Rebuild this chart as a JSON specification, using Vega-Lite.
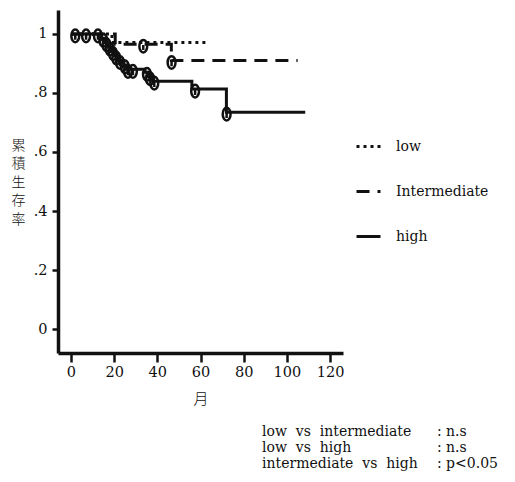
{
  "$schema": "https://vega.github.io/schema/vega-lite/v6.json",
  "width": 285,
  "height": 343,
  "autosize": {"type": "none"},
  "padding": {"left": 58, "top": 10, "right": 172, "bottom": 129},
  "background": "white",
  "datasets": {
    "km": [
      {"group": "low", "t": 0, "s": 1, "c": 0},
      {"group": "low", "t": 2, "s": 1, "c": 1},
      {"group": "low", "t": 19, "s": 0.971, "c": 0},
      {"group": "low", "t": 63, "s": 0.971, "c": 0},
      {"group": "Intermediate", "t": 0, "s": 1, "c": 0},
      {"group": "Intermediate", "t": 7, "s": 1, "c": 1},
      {"group": "Intermediate", "t": 20.5, "s": 0.965, "c": 0},
      {"group": "Intermediate", "t": 33.5, "s": 0.965, "c": 1},
      {"group": "Intermediate", "t": 46.5, "s": 0.91, "c": 0},
      {"group": "Intermediate", "t": 46.6, "s": 0.91, "c": 1},
      {"group": "Intermediate", "t": 105, "s": 0.91, "c": 0},
      {"group": "high", "t": 0, "s": 1, "c": 0},
      {"group": "high", "t": 12.5, "s": 1, "c": 1},
      {"group": "high", "t": 14, "s": 0.985, "c": 0},
      {"group": "high", "t": 15, "s": 0.985, "c": 1},
      {"group": "high", "t": 16, "s": 0.97, "c": 0},
      {"group": "high", "t": 16.5, "s": 0.97, "c": 1},
      {"group": "high", "t": 17.5, "s": 0.955, "c": 0},
      {"group": "high", "t": 18, "s": 0.955, "c": 1},
      {"group": "high", "t": 19, "s": 0.94, "c": 0},
      {"group": "high", "t": 19.5, "s": 0.94, "c": 1},
      {"group": "high", "t": 20.5, "s": 0.925, "c": 0},
      {"group": "high", "t": 21, "s": 0.925, "c": 1},
      {"group": "high", "t": 22, "s": 0.91, "c": 0},
      {"group": "high", "t": 22.7, "s": 0.91, "c": 1},
      {"group": "high", "t": 24.5, "s": 0.895, "c": 0},
      {"group": "high", "t": 25, "s": 0.895, "c": 1},
      {"group": "high", "t": 26, "s": 0.88, "c": 0},
      {"group": "high", "t": 26.4, "s": 0.88, "c": 1},
      {"group": "high", "t": 28.7, "s": 0.88, "c": 1},
      {"group": "high", "t": 34.3, "s": 0.87, "c": 0},
      {"group": "high", "t": 35.2, "s": 0.87, "c": 1},
      {"group": "high", "t": 36, "s": 0.855, "c": 0},
      {"group": "high", "t": 36.6, "s": 0.855, "c": 1},
      {"group": "high", "t": 38, "s": 0.84, "c": 0},
      {"group": "high", "t": 38.6, "s": 0.84, "c": 1},
      {"group": "high", "t": 56, "s": 0.813, "c": 0},
      {"group": "high", "t": 57.5, "s": 0.813, "c": 1},
      {"group": "high", "t": 72, "s": 0.735, "c": 0},
      {"group": "high", "t": 72.1, "s": 0.735, "c": 1},
      {"group": "high", "t": 108.5, "s": 0.735, "c": 0}
    ],
    "notes": [
      {"comparison": "low\u00a0\u00a0vs\u00a0\u00a0intermediate", "result": ":\u00a0n.s"},
      {"comparison": "low\u00a0\u00a0vs\u00a0\u00a0high", "result": ":\u00a0n.s"},
      {"comparison": "intermediate\u00a0\u00a0vs\u00a0\u00a0high", "result": ":\u00a0p<0.05"}
    ]
  },
  "layer": [
    {
      "layer": [
        {
          "data": {"name": "km"},
          "mark": {"type": "line", "interpolate": "step-after", "strokeWidth": 3, "color": "#111"},
          "encoding": {
            "x": {
              "field": "t", "type": "quantitative",
              "scale": {"domain": [-6, 126], "nice": false, "zero": false},
              "axis": {
                "values": [0, 10, 20, 30, 40, 50, 60, 70, 80, 90, 100, 110, 120],
                "labelExpr": "datum.value % 20 == 0 ? datum.label : ''",
                "tickSize": {"condition": {"test": "datum.value % 20 == 0", "value": 9}, "value": 5},
                "labelPadding": 3,
                "labelOverlap": false,
                "labelFlush": false,
                "title": "月",
                "titleFont": "Noto Sans CJK JP",
                "titleFontSize": 15,
                "titleFontWeight": 300,
                "titlePadding": 13
              }
            },
            "y": {
              "field": "s", "type": "quantitative",
              "scale": {"domain": [-0.081, 1.081], "nice": false, "zero": false},
              "axis": {
                "values": [0, 0.1, 0.2, 0.3, 0.4, 0.5, 0.6, 0.7, 0.8, 0.9, 1],
                "labelExpr": "round(datum.value*10) % 2 == 0 ? (datum.value == 0 ? '0' : (datum.value == 1 ? '1' : '.' + round(datum.value*10))) : ''",
                "tickSize": {"condition": {"test": "round(datum.value*10) % 2 == 0", "value": 6}, "value": 3},
                "labelPadding": 5,
                "labelOverlap": false,
                "labelFlush": false,
                "title": ["累", "積", "生", "存", "率"],
                "titleAngle": 0,
                "titleX": -40,
                "titleY": 135,
                "titleAlign": "center",
                "titleBaseline": "middle",
                "titleFont": "Noto Sans CJK JP",
                "titleFontSize": 14,
                "titleFontWeight": 300,
                "titleLineHeight": 18.5,
                "titleColor": "#111"
              }
            },
            "strokeDash": {
              "field": "group", "type": "nominal",
              "scale": {"domain": ["low", "Intermediate", "high"], "range": [[3, 4], [13, 8], [1, 0]]},
              "legend": {
                "orient": "none",
                "legendX": 297,
                "legendY": 123,
                "title": null,
                "symbolType": "stroke",
                "symbolSize": 576,
                "symbolStrokeWidth": 3,
                "symbolStrokeColor": "#111",
                "labelFont": "DejaVu Serif",
                "labelFontSize": 14,
                "labelColor": "#111",
                "labelOffset": 14,
                "rowPadding": 24,
                "padding": 0
              }
            }
          }
        },
        {
          "data": {"name": "km"},
          "transform": [{"filter": "datum.c == 1"}],
          "mark": {
            "type": "point",
            "shape": "M0,-1A0.62,1,0,1,1,0,1A0.62,1,0,1,1,0,-1ZM0,-0.2L0,0.6",
            "size": 160,
            "filled": false,
            "stroke": "#111",
            "strokeWidth": 2.5,
            "opacity": 1,
            "yOffset": 2
          },
          "encoding": {
            "x": {"field": "t", "type": "quantitative"},
            "y": {"field": "s", "type": "quantitative"}
          }
        }
      ]
    },
    {
      "data": {"name": "notes"},
      "layer": [
        {
          "mark": {"type": "text", "align": "left", "baseline": "middle", "font": "DejaVu Serif", "fontSize": 14, "color": "#111"},
          "encoding": {
            "x": {"datum": 88.5, "type": "quantitative", "scale": {"domain": [-6, 126], "nice": false, "zero": false}},
            "y": {"field": "comparison", "type": "ordinal", "sort": null, "scale": {"type": "point", "range": [422, 454], "padding": 0}, "axis": null},
            "text": {"field": "comparison"}
          }
        },
        {
          "mark": {"type": "text", "align": "left", "baseline": "middle", "font": "DejaVu Serif", "fontSize": 14, "color": "#111"},
          "encoding": {
            "x": {"datum": 169.5, "type": "quantitative"},
            "y": {"field": "comparison", "type": "ordinal", "sort": null, "axis": null},
            "text": {"field": "result"}
          }
        }
      ]
    }
  ],
  "resolve": {"scale": {"y": "independent"}},
  "config": {
    "view": {"stroke": null},
    "axis": {
      "grid": false,
      "domainColor": "#111",
      "domainWidth": 3.5,
      "tickColor": "#111",
      "tickWidth": 2.5,
      "labelColor": "#111",
      "labelFont": "DejaVu Serif",
      "labelFontSize": 14.5,
      "titleColor": "#111"
    }
  }
}
